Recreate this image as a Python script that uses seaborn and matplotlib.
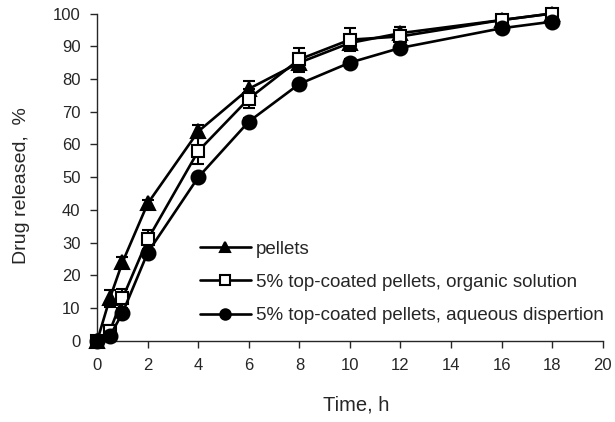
import matplotlib
matplotlib.use("Agg")
import matplotlib.pyplot as plt
import seaborn as sns
import pandas as pd

time_h = [0, 0.5, 1, 2, 4, 6, 8, 10, 12, 16, 18]
pellets = [0, 13, 24, 42, 64, 77, 85, 91, 94, 98, 100]
pellets_sd = [0, 2.5, 1.5, 1, 2, 2.5, 3, 2, 2, 1, 0.5]
organic = [0, 3, 13, 31, 58, 74, 86, 92, 93, 98, 100]
organic_sd = [0, 2, 3, 3, 4, 3, 3.5, 3.5, 3, 1.5, 1]
aqueous = [0, 1.5, 8.5, 27, 50, 67, 78.5, 85, 89.5, 95.5, 97.5]
aqueous_sd = [0, 1, 1, 1, 1, 1, 1, 1, 1, 1, 1]

labels = ["pellets",
          "5% top-coated pellets, organic solution",
          "5% top-coated pellets, aqueous dispertion"]

sns.set_style("ticks")
plt.rcParams["font.family"] = ["Liberation Sans", "DejaVu Sans"]

rows = []
for lab, vals, sds in zip(labels, [pellets, organic, aqueous], [pellets_sd, organic_sd, aqueous_sd]):
    for t, v, s in zip(time_h, vals, sds):
        rows.append({"time": t, "released": v, "sd": s, "sample": lab})
df = pd.DataFrame(rows)

fig, ax = plt.subplots(figsize=(6.15, 4.22), dpi=100)

# error bars first, underneath the markers
for lab in labels:
    d = df[df["sample"] == lab]
    ax.errorbar(d["time"], d["released"], yerr=d["sd"], fmt="none",
                ecolor="black", elinewidth=1.5, capsize=4, capthick=1.5, zorder=2)

sns.lineplot(data=df, x="time", y="released", hue="sample", style="sample",
             hue_order=labels, style_order=labels,
             palette=["black"] * 3, markers=["^", "s", "o"], dashes=False,
             linewidth=1.9, markersize=10, markeredgecolor="black",
             markeredgewidth=1.5, errorbar=None, ax=ax, zorder=3)

sizes = {"^": 10.5, "s": 9, "o": 10}
for line in ax.get_lines():
    m = line.get_marker()
    if m in sizes:
        line.set_markersize(sizes[m])
    if m == "s":
        line.set_markerfacecolor("white")

ax.set_xlim(0, 20)
ax.set_ylim(0, 100)
ax.set_xticks(range(0, 21, 2))
ax.set_yticks(range(0, 101, 10))
ax.tick_params(labelsize=12, width=1, length=5, pad=7, direction="out")
ax.set_xlabel("Time, h", fontsize=14.5)
ax.set_ylabel("Drug released,  %", fontsize=14)
ax.xaxis.set_label_coords(0.513, -0.165)
ax.yaxis.set_label_coords(-0.132, 0.476)
for sp in ["left", "bottom"]:
    ax.spines[sp].set_linewidth(1)
sns.despine(ax=ax)
for art in ax.get_children():
    try:
        art.set_clip_on(False)
    except Exception:
        pass

handles, lbls = ax.get_legend_handles_labels()
for h in handles:
    if h.get_marker() == "s":
        h.set_markerfacecolor("white")
    h.set_markersize(7.5)
ax.legend(handles, lbls, loc="lower left", bbox_to_anchor=(0.17, 0.0),
          frameon=False, fontsize=13.5, handlelength=2.7, handletextpad=0.3,
          labelspacing=0.85)

fig.subplots_adjust(left=0.158, right=0.98, top=0.968, bottom=0.192)
fig.savefig("out.png", dpi=100)
